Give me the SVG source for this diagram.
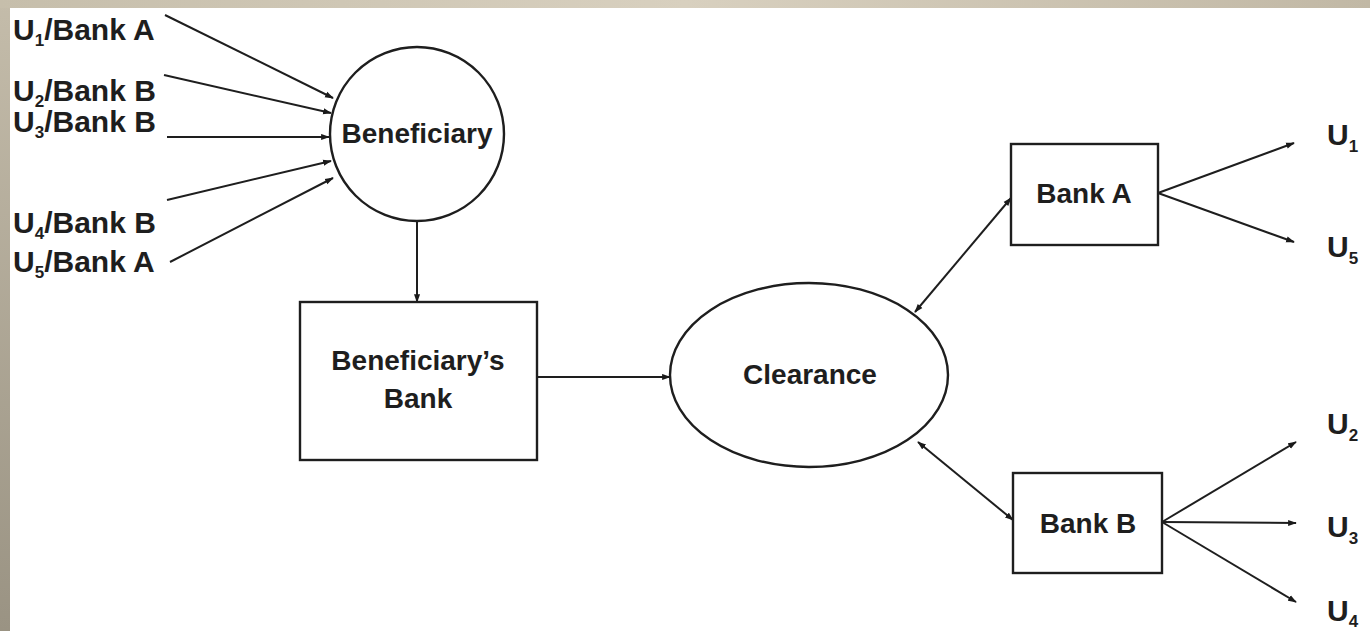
<svg xmlns="http://www.w3.org/2000/svg" width="1370" height="631" viewBox="0 0 1370 631">
  <defs>
    <linearGradient id="edgeTop" x1="0" y1="0" x2="1" y2="0">
      <stop offset="0" stop-color="#c6beab"/>
      <stop offset="0.5" stop-color="#d8d0bf"/>
      <stop offset="1" stop-color="#c1b8a5"/>
    </linearGradient>
    <linearGradient id="edgeLeft" x1="0" y1="0" x2="0" y2="1">
      <stop offset="0" stop-color="#c4bcaa"/>
      <stop offset="1" stop-color="#9a9383"/>
    </linearGradient>
    <marker id="tip" viewBox="0 0 10 8" refX="9" refY="4" markerWidth="9" markerHeight="7" markerUnits="userSpaceOnUse" orient="auto-start-reverse">
      <path d="M0,0.5 L10,4 L0,7.5 z" fill="#1a1a1a"/>
    </marker>
    <style>
      .lbl { font-family: "Liberation Sans", Arial, sans-serif; font-weight: bold; font-size: 28px; fill: #1e1e1e; }
      .src { font-size: 30px; }
      .dst { font-size: 30px; }
      .sub { font-size: 17px; }
      .shape { fill: #ffffff; stroke: #1e1e1e; stroke-width: 2.4; }
      .wire { fill: none; stroke: #1e1e1e; stroke-width: 2; marker-end: url(#tip); }
      .both { marker-start: url(#tip); }
    </style>
  </defs>

  <!-- page background with slide edges -->
  <rect x="0" y="0" width="1370" height="631" fill="url(#edgeLeft)"/>
  <rect x="0" y="0" width="1370" height="8" fill="url(#edgeTop)"/>
  <rect x="10" y="8" width="1360" height="623" fill="#ffffff"/>

  <!-- connectors -->
  <g id="connectors">
    <line class="wire" x1="165" y1="15" x2="333" y2="98"/>
    <line class="wire" x1="164" y1="75" x2="331" y2="113"/>
    <line class="wire" x1="167" y1="137" x2="329" y2="137"/>
    <line class="wire" x1="167" y1="200" x2="331" y2="161"/>
    <line class="wire" x1="170" y1="262" x2="333" y2="178"/>
    <line class="wire" x1="417" y1="222" x2="417" y2="302"/>
    <line class="wire" x1="537" y1="377" x2="670" y2="377" stroke-width="2.6"/>
    <line class="wire both" x1="915" y1="312" x2="1011" y2="198"/>
    <line class="wire both" x1="918" y1="442" x2="1013" y2="520"/>
    <line class="wire" x1="1158" y1="193" x2="1294" y2="143"/>
    <line class="wire" x1="1158" y1="193" x2="1294" y2="242"/>
    <line class="wire" x1="1162" y1="522" x2="1296" y2="442"/>
    <line class="wire" x1="1162" y1="522" x2="1296" y2="523"/>
    <line class="wire" x1="1162" y1="522" x2="1296" y2="602"/>
  </g>

  <!-- sources -->
  <g id="sources">
    <text class="lbl src" x="13" y="40">U<tspan class="sub" dy="6">1</tspan><tspan dy="-6">/Bank A</tspan></text>
    <text class="lbl src" x="13" y="101">U<tspan class="sub" dy="6">2</tspan><tspan dy="-6">/Bank B</tspan></text>
    <text class="lbl src" x="13" y="132">U<tspan class="sub" dy="6">3</tspan><tspan dy="-6">/Bank B</tspan></text>
    <text class="lbl src" x="13" y="233">U<tspan class="sub" dy="6">4</tspan><tspan dy="-6">/Bank B</tspan></text>
    <text class="lbl src" x="13" y="272">U<tspan class="sub" dy="6">5</tspan><tspan dy="-6">/Bank A</tspan></text>
  </g>

  <g id="beneficiary">
    <circle class="shape" cx="417" cy="134" r="87"/>
    <text class="lbl" x="417" y="143" text-anchor="middle">Beneficiary</text>
  </g>

  <g id="beneficiary-bank">
    <rect class="shape" x="300" y="302" width="237" height="158"/>
    <text class="lbl" x="418" y="370" text-anchor="middle">Beneficiary’s</text>
    <text class="lbl" x="418" y="408" text-anchor="middle">Bank</text>
  </g>

  <g id="clearance">
    <ellipse class="shape" cx="809" cy="375" rx="139" ry="92"/>
    <text class="lbl" x="810" y="384" text-anchor="middle">Clearance</text>
  </g>

  <g id="bank-a">
    <rect class="shape" x="1011" y="144" width="147" height="101"/>
    <text class="lbl" x="1084" y="203" text-anchor="middle">Bank A</text>
  </g>

  <g id="bank-b">
    <rect class="shape" x="1013" y="473" width="149" height="100"/>
    <text class="lbl" x="1088" y="533" text-anchor="middle">Bank B</text>
  </g>

  <!-- recipients -->
  <g id="recipients">
    <text class="lbl dst" x="1327" y="145">U<tspan class="sub" dy="7">1</tspan></text>
    <text class="lbl dst" x="1327" y="257">U<tspan class="sub" dy="7">5</tspan></text>
    <text class="lbl dst" x="1327" y="434">U<tspan class="sub" dy="7">2</tspan></text>
    <text class="lbl dst" x="1327" y="537">U<tspan class="sub" dy="7">3</tspan></text>
    <text class="lbl dst" x="1327" y="621">U<tspan class="sub" dy="6">4</tspan></text>
  </g>
</svg>
